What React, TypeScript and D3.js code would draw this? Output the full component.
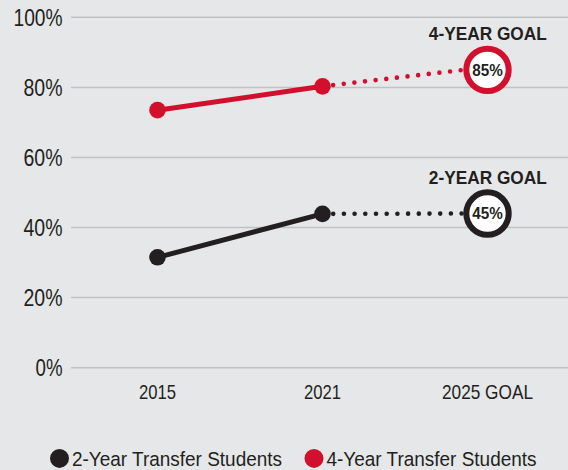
import React, { useEffect } from "react";
import * as d3 from "d3";

const categories = ["2015", "2021", "2025 GOAL"];
const yTicks = [0, 20, 40, 60, 80, 100];
const twoYear = [31.5, 43.9];
const fourYear = [73.5, 80.3];
const goalValues = [44, 85];
const goalLabels = ["45%", "85%"];
const goalTitles = ["2-YEAR GOAL", "4-YEAR GOAL"];
const seriesNames = ["2-Year Transfer Students", "4-Year Transfer Students"];
const colors = ["#231f20", "#d2102e"];

const W = 568;
const H = 470;
const FONT = "'Liberation Sans', Arial, sans-serif";
const TEXT = "#231f20";

// rendered text widths (condensed face emulation)
const tickWidth = (s: string) => (s.length === 4 ? 49 : s.length === 3 ? 39 : 27);
const catWidth = (s: string) => (s.length > 4 ? 91 : 37);

export default function App() {
  useEffect(() => {
    document.body.style.margin = "0";
  }, []);

  const x = d3.scalePoint<string>().domain(categories).range([157.5, 487.5]);
  const y = d3.scaleLinear().domain([0, 100]).range([367.7, 17.3]);
  const line = d3
    .line<[number, number]>()
    .x((d) => d[0])
    .y((d) => d[1]);

  const series = [twoYear, fourYear];

  return (
    <svg
      width={W}
      height={H}
      style={{ position: "absolute", left: 0, top: 0, display: "block" }}
      fontFamily={FONT}
    >
      <rect width={W} height={H} fill="#e6e7e9" />
      {yTicks.map((t) => {
        const s = `${t}%`;
        return (
          <g key={t}>
            <line x1={71} x2={W} y1={y(t)} y2={y(t)} stroke="#c0c1c3" strokeWidth={1.5} />
            <text
              x={62.5}
              y={y(t) + 8.4}
              textAnchor="end"
              fontSize={23.3}
              fill={TEXT}
              textLength={tickWidth(s)}
              lengthAdjust="spacingAndGlyphs"
            >
              {s}
            </text>
          </g>
        );
      })}
      {categories.map((c) => (
        <text
          key={c}
          x={x(c)}
          y={399.3}
          textAnchor="middle"
          fontSize={21}
          fill={TEXT}
          textLength={catWidth(c)}
          lengthAdjust="spacingAndGlyphs"
        >
          {c}
        </text>
      ))}
      {series.map((vals, i) => {
        const pts: [number, number][] = vals.map((v, j) => [x(categories[j])!, y(v)]);
        const gx = x(categories[2])!;
        const gy = y(goalValues[i]);
        const last = pts[pts.length - 1];
        return (
          <g key={i}>
            <path
              d={line([last, [gx - 24, gy]])!}
              stroke={colors[i]}
              strokeWidth={4.6}
              strokeLinecap="round"
              strokeDasharray="0 10.7"
              fill="none"
            />
            <path d={line(pts)!} stroke={colors[i]} strokeWidth={5} fill="none" />
            {pts.map((p, j) => (
              <circle key={j} cx={p[0]} cy={p[1]} r={8.3} fill={colors[i]} />
            ))}
            <circle cx={gx} cy={gy} r={21.2} fill="#ffffff" stroke={colors[i]} strokeWidth={6} />
            <text
              x={gx}
              y={gy + 5.9}
              textAnchor="middle"
              fontSize={16.5}
              fontWeight="bold"
              fill={TEXT}
              textLength={30.5}
              lengthAdjust="spacingAndGlyphs"
            >
              {goalLabels[i]}
            </text>
            <text
              x={gx + 0.3}
              y={gy - 29.5}
              textAnchor="middle"
              fontSize={17.7}
              fontWeight="bold"
              fill={TEXT}
              textLength={118}
              lengthAdjust="spacingAndGlyphs"
            >
              {goalTitles[i]}
            </text>
          </g>
        );
      })}
      {seriesNames.map((name, i) => {
        const lx = i === 0 ? 59.5 : 314;
        return (
          <g key={name}>
            <circle cx={lx} cy={458.4} r={9.5} fill={colors[i]} />
            <text
              x={lx + 12.5}
              y={465.7}
              fontSize={20.5}
              fill={TEXT}
              textLength={210}
              lengthAdjust="spacingAndGlyphs"
            >
              {name}
            </text>
          </g>
        );
      })}
    </svg>
  );
}
